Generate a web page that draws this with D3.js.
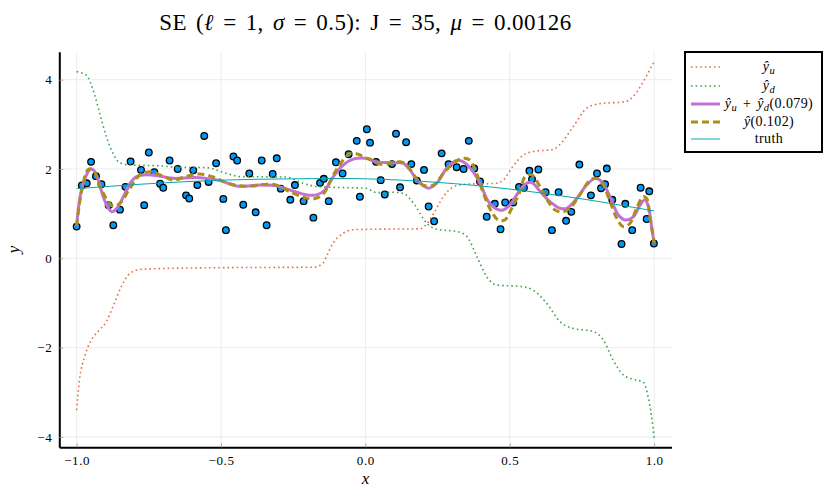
<!DOCTYPE html>
<html>
<head>
<meta charset="utf-8">
<script src="https://cdn.jsdelivr.net/npm/d3@7"></script>
<style>
  body { margin: 0; background: #fff; }
  svg text { font-family: "Liberation Serif", "DejaVu Serif", serif; fill: #000; }
</style>
</head>
<body>
<div id="chart"></div>
<script>
// observations (x, y)
const obsX = [-1.000,-0.982,-0.965,-0.950,-0.933,-0.914,-0.889,-0.873,-0.850,-0.831,
  -0.813,-0.777,-0.766,-0.750,-0.731,-0.711,-0.700,-0.678,-0.650,-0.621,
  -0.610,-0.596,-0.582,-0.558,-0.543,-0.517,-0.492,-0.483,-0.457,-0.444,
  -0.423,-0.402,-0.380,-0.359,-0.342,-0.321,-0.307,-0.293,-0.260,-0.244,
  -0.214,-0.180,-0.157,-0.144,-0.127,-0.102,-0.079,-0.058,-0.030,-0.019,
  0.005,0.016,0.037,0.053,0.067,0.092,0.106,0.120,0.141,0.159,
  0.178,0.203,0.219,0.238,0.264,0.288,0.316,0.340,0.358,0.377,
  0.397,0.420,0.448,0.468,0.484,0.512,0.532,0.549,0.568,0.577,
  0.599,0.624,0.646,0.669,0.695,0.713,0.741,0.781,0.802,0.816,
  0.830,0.836,0.855,0.887,0.900,0.924,0.953,0.974,0.983,0.999];
const obsY = [0.71,1.63,1.68,2.16,1.84,1.66,1.19,0.74,1.09,1.60,
  2.17,1.98,1.19,2.37,1.93,1.67,1.58,2.19,2.00,1.41,
  1.34,1.97,1.64,2.74,1.71,2.13,1.33,0.63,2.28,2.19,
  1.20,1.90,1.03,2.19,0.74,1.89,2.24,1.56,1.31,1.64,
  1.28,0.91,1.69,1.78,1.28,2.15,1.90,2.33,2.63,1.38,
  2.89,2.59,2.16,1.75,1.43,2.11,2.79,1.59,2.60,2.11,
  1.74,1.98,1.16,0.83,2.35,2.11,2.04,2.00,2.63,2.01,
  1.72,0.93,1.22,0.65,1.25,1.25,1.60,1.58,1.96,1.77,
  1.99,1.48,0.63,1.48,0.84,1.04,2.10,1.41,1.90,1.57,
  1.66,2.01,1.31,0.32,1.22,0.63,1.58,0.88,1.50,0.33];

// y_u hat
const yuX = [-1,-0.99,-0.972,-0.949,-0.92,-0.897,-0.874,-0.845,-0.816,-0.78,-0.712,-0.5,-0.18,-0.147,
  -0.135,-0.112,-0.077,-0.043,0.015,0.19,0.213,0.236,0.27,0.305,0.35,0.454,0.477,0.51,0.546,
  0.58,0.65,0.672,0.72,0.766,0.81,0.902,0.937,0.972,0.994,1.0];
const yuY = [-3.40,-2.72,-2.2,-1.83,-1.60,-1.42,-1.08,-0.63,-0.34,-0.25,-0.23,-0.21,-0.20,-0.11,
  0.04,0.34,0.56,0.64,0.65,0.66,0.78,1.0,1.38,1.60,1.66,1.68,1.75,2.05,2.31,
  2.39,2.44,2.54,2.95,3.36,3.46,3.51,3.70,4.07,4.33,4.40];

// y_d hat
const ydX = [-1,-0.966,-0.943,-0.92,-0.897,-0.874,-0.851,-0.816,-0.712,-0.654,-0.55,-0.48,-0.435,-0.274,
  -0.216,-0.158,-0.05,0.0,0.04,0.098,0.132,0.167,0.213,0.248,0.317,0.351,0.386,0.42,0.455,
  0.536,0.58,0.628,0.674,0.72,0.789,0.824,0.858,0.893,0.927,0.962,0.979,0.991,1.0];
const ydY = [4.18,4.10,3.77,3.25,2.72,2.35,2.14,2.09,2.07,2.04,2.03,1.90,1.83,1.82,
  1.68,1.60,1.58,1.57,1.47,1.48,1.45,1.23,0.78,0.65,0.60,0.49,0.04,-0.41,-0.60,
  -0.63,-0.71,-1.01,-1.42,-1.57,-1.64,-1.83,-2.28,-2.61,-2.71,-2.77,-3.10,-3.54,-4.03];

// y_u + y_d
const sumX = [-1,-0.988,-0.971,-0.953,-0.942,-0.925,-0.908,-0.89,-0.878,-0.861,-0.838,-0.815,-0.792,
  -0.757,-0.711,-0.665,-0.596,-0.55,-0.503,-0.446,-0.365,-0.307,-0.261,-0.203,-0.169,-0.14,
  -0.111,-0.077,-0.042,0.0,0.039,0.097,0.131,0.154,0.183,0.218,0.247,0.282,0.316,0.339,
  0.368,0.397,0.426,0.455,0.477,0.5,0.524,0.553,0.575,0.605,0.639,0.674,0.697,0.732,
  0.766,0.795,0.818,0.847,0.876,0.899,0.928,0.951,0.968,0.98,0.991,1.0];
const sumY = [0.72,1.38,1.79,1.99,1.98,1.75,1.38,1.12,1.04,1.12,1.38,1.68,1.83,
  1.87,1.84,1.79,1.81,1.79,1.74,1.62,1.64,1.62,1.53,1.42,1.42,1.53,
  1.83,2.09,2.22,2.24,2.16,2.14,2.13,1.98,1.72,1.57,1.68,2.02,2.19,2.16,
  1.98,1.68,1.27,1.10,1.08,1.19,1.42,1.66,1.70,1.50,1.27,1.12,1.12,1.34,
  1.64,1.79,1.72,1.38,0.97,0.86,0.93,1.19,1.31,1.16,0.71,0.34];

// y hat
const fitX = [-1,-0.982,-0.96,-0.942,-0.919,-0.89,-0.873,-0.85,-0.815,-0.78,-0.745,-0.711,-0.665,
  -0.619,-0.573,-0.527,-0.492,-0.446,-0.388,-0.342,-0.307,-0.261,-0.215,-0.18,-0.146,-0.111,
  -0.077,-0.053,-0.025,0.005,0.016,0.05,0.085,0.12,0.143,0.172,0.2,0.235,0.27,0.304,0.339,
  0.362,0.385,0.408,0.437,0.46,0.483,0.507,0.535,0.553,0.576,0.605,0.633,0.657,0.685,0.714,
  0.749,0.778,0.801,0.824,0.847,0.87,0.893,0.916,0.939,0.962,0.974,0.985,1.0];
const fitY = [0.72,1.53,1.99,1.98,1.60,1.27,1.16,1.23,1.57,1.87,1.94,1.87,1.75,
  1.84,1.89,1.82,1.72,1.63,1.62,1.66,1.64,1.49,1.37,1.33,1.44,1.87,
  2.20,2.35,2.33,2.24,2.22,2.11,2.13,2.16,2.09,1.83,1.64,1.64,1.90,2.13,2.24,
  2.20,1.90,1.46,1.04,0.86,0.86,1.12,1.49,1.83,1.87,1.60,1.27,1.08,1.04,1.16,
  1.49,1.75,1.79,1.64,1.27,0.90,0.71,0.78,1.12,1.38,1.34,0.93,0.34];

// truth
const truthX = [-1,-0.75,-0.5,-0.25,0,0.25,0.5,0.75,1];
const truthY = [1.56,1.67,1.75,1.78,1.78,1.70,1.55,1.33,1.06];

const xTicks = [-1, -0.5, 0, 0.5, 1];
const xTickLabels = ["\u22121.0", "\u22120.5", "0.0", "0.5", "1.0"];
const yTicks = [-4, -2, 0, 2, 4];
const yTickLabels = ["\u22124", "\u22122", "0", "2", "4"];

const titleParts = [["SE (", ""], ["\u2113", "i"], [" = 1, ", ""], ["\u03c3", "i"],
  [" = 0.5): J = 35, ", ""], ["\u03bc", "i"], [" = 0.00126", ""]];
const legendNames = [
  [["\u0177", "i"], ["u", "sub"]],
  [["\u0177", "i"], ["d", "sub"]],
  [["\u0177", "i"], ["u", "sub"], [" + ", ""], ["\u0177", "i"], ["d", "sub"], ["(0.079)", ""]],
  [["\u0177", "i"], ["(0.102)", ""]],
  [["truth", ""]]
];

const width = 830, height = 496;
const margins = { top: 51.7, right: 158.5, bottom: 48.7, left: 59.3 };

const svg = d3.select("#chart").append("svg")
  .attr("width", width)
  .attr("height", height);

const x = d3.scaleLinear().domain([-1.06, 1.06]).range([margins.left, width - margins.right]);
const y = d3.scaleLinear().domain([-4.233, 4.627]).range([height - margins.bottom, margins.top]);

// rich text helper: italic parts and subscripts
const richText = (sel, parts, subSize) => {
  let shift = 0;
  parts.forEach(([t, s]) => {
    const target = s === "sub" ? 3 : 0;
    sel.append("tspan")
      .attr("dy", target - shift)
      .attr("font-style", s ? "italic" : null)
      .attr("font-size", s === "sub" ? subSize : null)
      .text(t);
    shift = target;
  });
};

// grid
const grid = svg.append("g").attr("stroke", "#e4e4e4").attr("stroke-width", 0.7);
grid.selectAll(".gx").data(xTicks).join("line")
  .attr("x1", d => x(d)).attr("x2", d => x(d))
  .attr("y1", margins.top).attr("y2", height - margins.bottom);
grid.selectAll(".gy").data(yTicks).join("line")
  .attr("x1", margins.left).attr("x2", width - margins.right)
  .attr("y1", d => y(d)).attr("y2", d => y(d));

// axes
const xAxis = svg.append("g")
  .attr("transform", `translate(0, ${height - margins.bottom})`)
  .call(d3.axisBottom(x).tickValues(xTicks).tickFormat((d, i) => xTickLabels[i])
    .tickSizeInner(-4).tickSizeOuter(0).tickPadding(8));
const yAxis = svg.append("g")
  .attr("transform", `translate(${margins.left}, 0)`)
  .call(d3.axisLeft(y).tickValues(yTicks).tickFormat((d, i) => yTickLabels[i])
    .tickSizeInner(-4).tickSizeOuter(0).tickPadding(7));
[xAxis, yAxis].forEach(a => {
  a.select(".domain").attr("stroke", "#000").attr("stroke-width", 2);
  a.selectAll(".tick line").attr("stroke", "#999").attr("stroke-width", 0.8);
  a.selectAll(".tick text").attr("font-size", 13).attr("letter-spacing", 0.6).attr("fill", "#222");
});

// points
svg.append("g").selectAll("circle")
  .data(d3.zip(obsX, obsY))
  .join("circle")
  .attr("cx", d => x(d[0]))
  .attr("cy", d => y(d[1]))
  .attr("r", 3.3)
  .attr("fill", "#009AFA")
  .attr("stroke", "#000")
  .attr("stroke-width", 1.3);

const stepLine = d3.line().x(d => x(d[0])).y(d => y(d[1])).curve(d3.curveMonotoneX);
const wiggle = d3.line().x(d => x(d[0])).y(d => y(d[1])).curve(d3.curveCatmullRom.alpha(0.5));

const series = [
  { xs: yuX, ys: yuY, line: stepLine, colour: "#E36F47", w: 1.6, dash: "1.6,3" },
  { xs: ydX, ys: ydY, line: stepLine, colour: "#3EA44E", w: 1.6, dash: "1.6,3" },
  { xs: sumX, ys: sumY, line: wiggle, colour: "#C371D2", w: 3, dash: null },
  { xs: fitX, ys: fitY, line: wiggle, colour: "#AC8E18", w: 3, dash: "7,4" },
  { xs: truthX, ys: truthY, line: wiggle, colour: "#00A9AD", w: 1, dash: null }
];

svg.append("g").selectAll("path")
  .data(series)
  .join("path")
  .attr("d", d => d.line(d3.zip(d.xs, d.ys)))
  .attr("fill", "none")
  .attr("stroke", d => d.colour)
  .attr("stroke-width", d => d.w)
  .attr("stroke-dasharray", d => d.dash);

// title
const title = svg.append("text")
  .attr("x", x(0))
  .attr("y", 30)
  .attr("text-anchor", "middle")
  .attr("font-size", 23)
  .attr("word-spacing", 3)
  .attr("letter-spacing", 0.4);
richText(title, titleParts, 16);

// axis labels
svg.append("text")
  .attr("x", x(0)).attr("y", 484)
  .attr("text-anchor", "middle")
  .attr("font-size", 17).attr("font-style", "italic")
  .text("x");
svg.append("text")
  .attr("transform", `translate(19, ${y(0.2)}) rotate(-90)`)
  .attr("text-anchor", "middle")
  .attr("font-size", 17).attr("font-style", "italic")
  .text("y");

// legend
const legend = svg.append("g");
legend.append("rect")
  .attr("x", 685).attr("y", 52)
  .attr("width", 137).attr("height", 100)
  .attr("fill", "#fff").attr("stroke", "#000").attr("stroke-width", 2);
const rowY = [67, 86, 104, 122, 139];
series.forEach((s, i) => {
  legend.append("line")
    .attr("x1", 691).attr("x2", 720)
    .attr("y1", rowY[i]).attr("y2", rowY[i])
    .attr("stroke", s.colour)
    .attr("stroke-width", s.w)
    .attr("stroke-dasharray", s.dash);
  const t = legend.append("text")
    .attr("x", 769).attr("y", rowY[i] + 4)
    .attr("text-anchor", "middle")
    .attr("font-size", 14)
    .attr("word-spacing", 2)
    .attr("letter-spacing", 0.4);
  richText(t, legendNames[i], 10.5);
});
</script>
</body>
</html>
